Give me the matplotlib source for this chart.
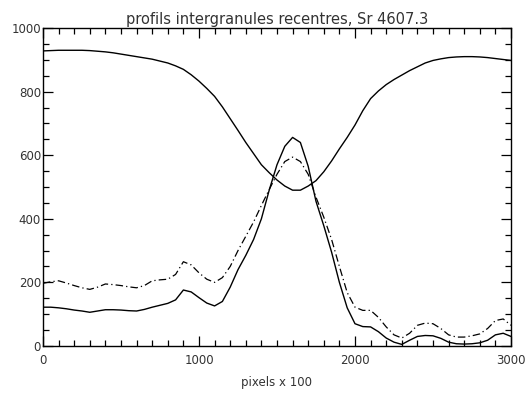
import matplotlib
matplotlib.use('Agg')
import matplotlib.pyplot as plt
from matplotlib.ticker import MultipleLocator

# position along the cut (pixels x 100)
x = [0, 50, 100, 150, 200, 250, 300, 350, 400, 450, 500, 550, 600, 650, 700, 750,
     800, 850, 900, 950, 1000, 1050, 1100, 1150, 1200, 1250, 1300, 1350, 1400, 1450,
     1500, 1550, 1600, 1650, 1700, 1750, 1800, 1850, 1900, 1950, 2000, 2050, 2100,
     2150, 2200, 2250, 2300, 2350, 2400, 2450, 2500, 2550, 2600, 2650, 2700, 2750,
     2800, 2850, 2900, 2950, 3000]

# line profile (upper curve)
profile = [928, 929, 930, 930, 930, 930, 929, 927, 925, 922, 918, 914, 910, 906, 902, 896,
           890, 881, 870, 853, 833, 810, 785, 752, 715, 678, 640, 605, 570, 545,
           522, 503, 490, 490, 503, 520, 548, 582, 620, 656, 695, 740, 778,
           802, 822, 838, 852, 866, 878, 890, 898, 903, 907, 909, 910, 910,
           909, 907, 904, 901, 898]

# intergranule curves
solid = [122, 122, 120, 117, 113, 110, 106, 110, 114, 114, 113, 111, 110, 115, 122, 128,
         134, 145, 176, 170, 152, 135, 126, 140, 185, 240, 285, 335, 400, 490,
         570, 628, 656, 640, 565, 455, 378, 295, 200, 120, 70, 61, 60,
         45, 25, 12, 5, 18, 30, 33, 32, 24, 12, 7, 6, 7,
         10, 18, 35, 40, 30]

dashdot = [197, 202, 205, 198, 190, 183, 178, 185, 195, 193, 190, 186, 183, 190, 205, 208,
           210, 225, 265, 255, 230, 210, 200, 215, 250, 300, 345, 390, 442, 492,
           540, 580, 594, 580, 540, 468, 405, 335, 250, 168, 122, 112, 112,
           90, 60, 35, 25, 40, 65, 72, 70, 55, 35, 28, 28, 32,
           38, 55, 80, 85, 65]

fig = plt.figure(figsize=(5.26, 3.98), dpi=100)
ax = fig.add_axes([0.0817, 0.1307, 0.8898, 0.7989])

ax.plot(x, profile, color='black', lw=1.0)
ax.plot(x, solid, color='black', lw=1.0)
ax.plot(x, dashdot, color='black', lw=0.9, linestyle=(0, (6, 2.5, 1, 2.5)))

ax.set_xlim(0, 3000)
ax.set_ylim(0, 1000)
ax.xaxis.set_major_locator(MultipleLocator(1000))
ax.xaxis.set_minor_locator(MultipleLocator(100))
ax.yaxis.set_major_locator(MultipleLocator(200))
ax.yaxis.set_minor_locator(MultipleLocator(50))

txt = '#333333'
ax.tick_params(which='both', direction='in', top=True, right=True, colors='black',
               labelcolor=txt, labelsize=8.5, width=0.9)
ax.tick_params(which='major', length=7)
ax.tick_params(which='minor', length=4)
ax.tick_params(axis='x', pad=6)
ax.tick_params(axis='y', pad=1.5)
for s in ax.spines.values():
    s.set_linewidth(1.0)

ax.set_title('profils intergranules recentres, Sr 4607.3', fontsize=10.5, color=txt, pad=3)
ax.set_xlabel('pixels x 100', fontsize=8.5, color=txt, labelpad=6)

fig.savefig('out.png', dpi=100)
